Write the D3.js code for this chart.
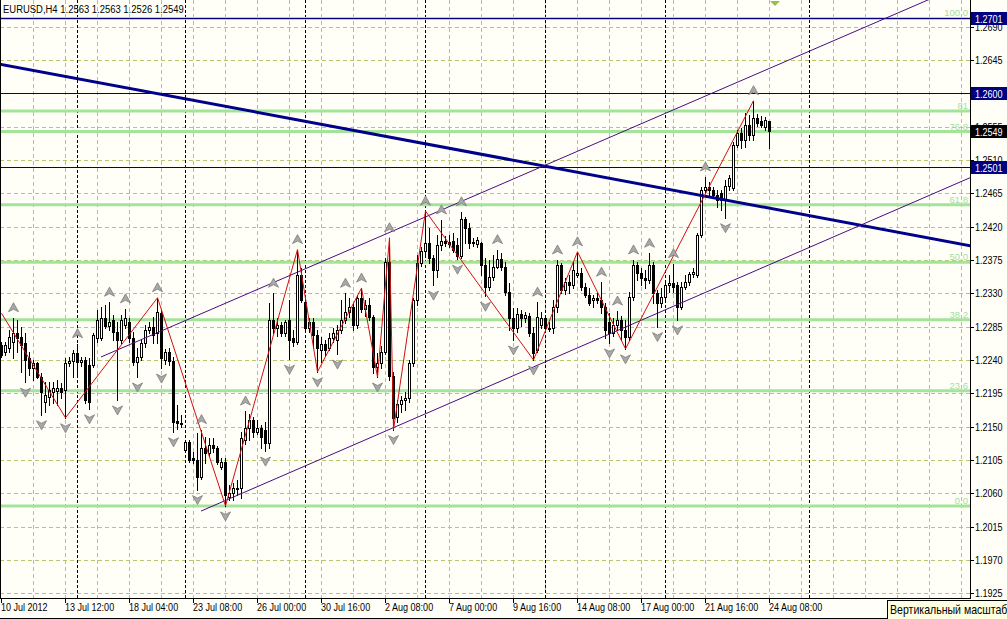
<!DOCTYPE html>
<html><head><meta charset="utf-8">
<script src="https://cdn.jsdelivr.net/npm/d3@7"></script>
<style>
html,body{margin:0;padding:0;background:#fffff8;overflow:hidden;}
svg{display:block;}
</style></head><body>
<svg id="c" width="1007" height="619"></svg>
<script>
// ---------- DATA ----------
const title = "EURUSD,H4  1.2563 1.2563 1.2526 1.2549";
const timeLabels = ["10 Jul 2012","13 Jul 12:00","18 Jul 04:00","23 Jul 08:00","26 Jul 00:00","30 Jul 16:00","2 Aug 08:00","7 Aug 00:00","9 Aug 16:00","14 Aug 08:00","17 Aug 00:00","21 Aug 16:00","24 Aug 08:00"];
const timeLabelBars = [0,16,32,48,64,80,96,112,128,144,160,176,192];
const priceTicks = [1.1925,1.1970,1.2015,1.2060,1.2105,1.2150,1.2195,1.2240,1.2285,1.2330,1.2375,1.2420,1.2465,1.2510,1.2555,1.2600,1.2645,1.2690];

const opens = [
1.2260,1.2251,1.2256,1.2264,1.2276,1.2271,1.2263,1.2243,1.2229,1.2236,1.2217,1.2183,1.2190,1.2197,1.2198,1.2202,
1.2200,1.2236,1.2239,1.2249,1.2237,1.2240,1.2233,1.2233,1.2270,1.2270,1.2297,1.2286,1.2294,1.2278,1.2267,1.2287,
1.2291,1.2270,1.2237,1.2244,1.2263,1.2281,1.2285,1.2276,1.2303,1.2240,1.2251,1.2239,1.2158,1.2155,1.2119,1.2129,
1.2108,1.2105,1.2082,1.2121,1.2114,1.2125,1.2121,1.2096,1.2102,1.2055,1.2060,1.2066,1.2067,1.2132,1.2148,1.2159,
1.2143,1.2148,1.2146,1.2128,1.2294,1.2283,1.2287,1.2276,1.2294,1.2270,1.2264,1.2355,1.2318,1.2283,1.2291,1.2274,
1.2254,1.2262,1.2256,1.2270,1.2267,1.2281,1.2294,1.2305,1.2312,1.2287,1.2324,1.2309,1.2314,1.2298,1.2231,1.2236,
1.2251,1.2372,1.2218,1.2163,1.2181,1.2186,1.2189,1.2236,1.2321,1.2371,1.2387,1.2398,1.2378,1.2361,1.2395,1.2401,
1.2399,1.2401,1.2395,1.2380,1.2430,1.2418,1.2398,1.2397,1.2398,1.2368,1.2339,1.2352,1.2366,1.2376,1.2366,1.2332,
1.2297,1.2283,1.2302,1.2297,1.2299,1.2276,1.2254,1.2287,1.2297,1.2283,1.2283,1.2312,1.2368,1.2335,1.2345,1.2341,
1.2355,1.2357,1.2339,1.2328,1.2321,1.2324,1.2321,1.2312,1.2291,1.2276,1.2287,1.2294,1.2281,1.2271,1.2325,1.2368,
1.2357,1.2351,1.2348,1.2368,1.2330,1.2317,1.2325,1.2341,1.2344,1.2341,1.2312,1.2339,1.2345,1.2356,1.2355,1.2409,
1.2470,1.2474,1.2470,1.2463,1.2465,1.2456,1.2475,1.2472,1.2530,1.2546,1.2537,1.2557,1.2544,1.2567,1.2563,1.2555,
1.2563];
const highs = [
1.2264,1.2264,1.2281,1.2297,1.2294,1.2285,1.2276,1.2251,1.2240,1.2237,1.2222,1.2210,1.2210,1.2210,1.2213,1.2209,
1.2243,1.2244,1.2254,1.2262,1.2244,1.2244,1.2243,1.2276,1.2308,1.2312,1.2314,1.2318,1.2301,1.2291,1.2301,1.2309,
1.2297,1.2278,1.2256,1.2267,1.2287,1.2291,1.2298,1.2324,1.2308,1.2255,1.2256,1.2244,1.2179,1.2166,1.2132,1.2132,
1.2116,1.2141,1.2146,1.2136,1.2135,1.2135,1.2124,1.2108,1.2108,1.2071,1.2074,1.2078,1.2143,1.2171,1.2167,1.2163,
1.2159,1.2152,1.2156,1.2317,1.2330,1.2297,1.2291,1.2294,1.2321,1.2281,1.2389,1.2364,1.2326,1.2297,1.2297,1.2281,
1.2271,1.2267,1.2276,1.2283,1.2287,1.2321,1.2330,1.2324,1.2317,1.2328,1.2337,1.2321,1.2324,1.2301,1.2249,1.2259,
1.2378,1.2405,1.2224,1.2186,1.2191,1.2197,1.2240,1.2324,1.2382,1.2393,1.2441,1.2418,1.2382,1.2409,1.2429,1.2407,
1.2409,1.2411,1.2405,1.2440,1.2433,1.2425,1.2405,1.2406,1.2399,1.2378,1.2375,1.2382,1.2389,1.2384,1.2372,1.2344,
1.2310,1.2310,1.2308,1.2305,1.2303,1.2285,1.2318,1.2305,1.2301,1.2291,1.2321,1.2375,1.2371,1.2351,1.2355,1.2372,
1.2386,1.2364,1.2344,1.2337,1.2328,1.2330,1.2345,1.2317,1.2303,1.2297,1.2306,1.2299,1.2294,1.2332,1.2375,1.2372,
1.2364,1.2362,1.2384,1.2372,1.2335,1.2337,1.2345,1.2355,1.2370,1.2345,1.2345,1.2355,1.2359,1.2364,1.2411,1.2474,
1.2487,1.2480,1.2474,1.2470,1.2470,1.2483,1.2490,1.2534,1.2551,1.2553,1.2573,1.2571,1.2590,1.2572,1.2569,1.2568,
1.2563];
const lows = [
1.2244,1.2247,1.2251,1.2243,1.2251,1.2224,1.2210,1.2220,1.2213,1.2216,1.2166,1.2170,1.2179,1.2182,1.2179,1.2189,
1.2162,1.2232,1.2217,1.2217,1.2232,1.2182,1.2174,1.2231,1.2264,1.2267,1.2283,1.2281,1.2267,1.2186,1.2263,1.2283,
1.2264,1.2233,1.2217,1.2240,1.2258,1.2276,1.2263,1.2263,1.2229,1.2235,1.2233,1.2143,1.2147,1.2150,1.2116,1.2102,
1.2101,1.2065,1.2079,1.2101,1.2110,1.2116,1.2100,1.2093,1.2043,1.2051,1.2051,1.2058,1.2054,1.2127,1.2132,1.2136,
1.2140,1.2121,1.2117,1.2121,1.2276,1.2272,1.2272,1.2272,1.2241,1.2259,1.2262,1.2318,1.2278,1.2278,1.2256,1.2224,
1.2237,1.2245,1.2254,1.2264,1.2248,1.2276,1.2290,1.2298,1.2281,1.2283,1.2305,1.2299,1.2294,1.2222,1.2217,1.2229,
1.2248,1.2213,1.2146,1.2156,1.2170,1.2173,1.2183,1.2232,1.2314,1.2367,1.2379,1.2371,1.2341,1.2352,1.2389,1.2394,
1.2393,1.2386,1.2376,1.2378,1.2398,1.2391,1.2394,1.2393,1.2355,1.2326,1.2335,1.2348,1.2364,1.2361,1.2328,1.2281,
1.2267,1.2278,1.2286,1.2291,1.2272,1.2240,1.2251,1.2283,1.2281,1.2279,1.2276,1.2305,1.2330,1.2329,1.2330,1.2337,
1.2352,1.2335,1.2325,1.2314,1.2312,1.2317,1.2303,1.2270,1.2263,1.2272,1.2281,1.2267,1.2255,1.2267,1.2321,1.2348,
1.2341,1.2337,1.2344,1.2317,1.2285,1.2312,1.2321,1.2332,1.2332,1.2294,1.2309,1.2336,1.2341,1.2352,1.2352,1.2406,
1.2465,1.2461,1.2459,1.2447,1.2443,1.2432,1.2470,1.2470,1.2528,1.2526,1.2528,1.2537,1.2537,1.2556,1.2555,1.2551,
1.2526];
const closes = [
1.2247,1.2260,1.2271,1.2276,1.2270,1.2260,1.2240,1.2229,1.2236,1.2217,1.2197,1.2193,1.2200,1.2202,1.2202,1.2197,
1.2236,1.2239,1.2249,1.2237,1.2240,1.2186,1.2183,1.2274,1.2294,1.2297,1.2286,1.2291,1.2278,1.2267,1.2294,1.2297,
1.2270,1.2237,1.2244,1.2263,1.2281,1.2285,1.2274,1.2305,1.2243,1.2251,1.2239,1.2156,1.2155,1.2154,1.2129,1.2105,
1.2105,1.2082,1.2121,1.2114,1.2125,1.2121,1.2102,1.2102,1.2058,1.2060,1.2067,1.2067,1.2135,1.2148,1.2159,1.2143,
1.2148,1.2136,1.2128,1.2294,1.2283,1.2287,1.2276,1.2291,1.2267,1.2264,1.2355,1.2321,1.2283,1.2291,1.2274,1.2256,
1.2262,1.2254,1.2270,1.2276,1.2281,1.2294,1.2305,1.2312,1.2287,1.2324,1.2309,1.2314,1.2298,1.2231,1.2236,1.2251,
1.2372,1.2218,1.2162,1.2181,1.2186,1.2189,1.2236,1.2321,1.2371,1.2387,1.2398,1.2378,1.2361,1.2395,1.2401,1.2398,
1.2397,1.2389,1.2380,1.2430,1.2418,1.2398,1.2399,1.2402,1.2368,1.2339,1.2352,1.2366,1.2376,1.2366,1.2332,1.2297,
1.2283,1.2302,1.2297,1.2301,1.2276,1.2249,1.2298,1.2297,1.2283,1.2282,1.2312,1.2368,1.2335,1.2345,1.2341,1.2361,
1.2357,1.2339,1.2328,1.2317,1.2324,1.2321,1.2312,1.2281,1.2276,1.2287,1.2294,1.2281,1.2271,1.2325,1.2368,1.2357,
1.2351,1.2348,1.2368,1.2330,1.2317,1.2325,1.2341,1.2344,1.2339,1.2312,1.2339,1.2345,1.2356,1.2359,1.2409,1.2470,
1.2474,1.2470,1.2463,1.2456,1.2456,1.2475,1.2486,1.2530,1.2546,1.2537,1.2557,1.2544,1.2567,1.2560,1.2557,1.2564,
1.2549];

const upFractals   = [3,19,27,31,39,50,61,68,74,86,90,97,106,110,115,124,134,139,144,150,154,158,162,168,176,188];
const downFractals = [6,10,16,22,29,34,40,43,49,56,66,72,79,84,94,98,108,114,121,128,133,152,156,164,169,181];

const zigzagBars   = [0,16,39,56,74,79,90,94,97,98,106,133,144,156,188];
const zigzagPrices = [1.2303,1.2162,1.2324,1.2043,1.2389,1.2224,1.2337,1.2217,1.2405,1.2146,1.2441,1.2240,1.2386,1.2255,1.2590];

const fibLow = 1.2043, fibHigh = 1.2701;
const fibLevels = [0,23.6,38.2,50.0,61.8,76.8,81,100];
const fibLabels = ["0.0","23.6","38.2","50.0","61.8","76.8","81","100.0"];

const hLinePrices = [1.2701,1.2600,1.2501];
const bidPrice = 1.2549;

const separatorBars = [19,46,76,106,136,166,202];

const trendBars = [0,192], trendPrices = [1.2639,1.2445];          // thick blue trend line
const chanUpBars = [25,188], chanUpPrices = [1.2244,1.2624];        // upper channel
const chanLoBars = [50,188], chanLoPrices = [1.2036,1.2359];        // lower channel

const tooltipText = "Вертикальный масштаб";

// ---------- CHART ----------
const svg = d3.select("#c");
const PR = 970, PB = 598;
const x = d3.scaleLinear().domain([0,192]).range([1,769]);
const y = d3.scaleLinear().domain([1.1925,1.2690]).range([593.3,26.6]);
const font = '"Liberation Sans",Arial,sans-serif';
const SX = 0.86; // horizontal squeeze to mimic the narrow terminal font

function label(sel, fx, fy, size, fill, anchor){
  return sel.append("text")
    .attr("transform",(d,i)=>`translate(${fx(d,i)},${fy(d,i)}) scale(${SX},1)`)
    .attr("font-family",font).attr("font-size",size).attr("fill",fill)
    .attr("text-anchor",anchor||"start");
}

svg.append("rect").attr("width",1007).attr("height",619).attr("fill","#fffff8");
svg.append("defs").append("clipPath").attr("id","pc").append("rect").attr("x",0).attr("y",0).attr("width",PR).attr("height",PB);
const g = svg.append("g").attr("clip-path","url(#pc)");

// grid
g.selectAll(".hg").data(priceTicks).enter().append("line")
  .attr("x1",0).attr("x2",PR).attr("y1",d=>Math.round(y(d))+0.5).attr("y2",d=>Math.round(y(d))+0.5)
  .attr("stroke","#b9c76c").attr("stroke-dasharray","4,3");
g.selectAll(".vg").data(d3.range(8,244,8)).enter().append("line")
  .attr("x1",d=>x(d)+0.5).attr("x2",d=>x(d)+0.5).attr("y1",0).attr("y2",PB)
  .attr("stroke","#b9c76c").attr("stroke-dasharray","4,3");
g.selectAll(".sep").data(separatorBars).enter().append("line")
  .attr("x1",d=>x(d)+0.5).attr("x2",d=>x(d)+0.5).attr("y1",0).attr("y2",PB)
  .attr("stroke","#000").attr("stroke-dasharray","3,2");

// fibo
const fibPrice = l => fibLow + (fibHigh-fibLow)*l/100;
g.selectAll(".fib").data(fibLevels).enter().append("line")
  .attr("x1",0).attr("x2",PR).attr("y1",d=>y(fibPrice(d))).attr("y2",d=>y(fibPrice(d)))
  .attr("stroke","#a3e39a").attr("stroke-width",3);
g.selectAll(".fibt").data(fibLevels).enter().append("text")
  .attr("x",968).attr("y",d=>y(fibPrice(d))-2).attr("text-anchor","end")
  .attr("font-family",font).attr("font-size",9.5).attr("fill","#a8dca0")
  .text((d,i)=>fibLabels[i]);

// horizontal lines
g.selectAll(".hl").data(hLinePrices).enter().append("line")
  .attr("x1",0).attr("x2",PR).attr("y1",d=>Math.round(y(d))+0.5).attr("y2",d=>Math.round(y(d))+0.5)
  .attr("stroke","#000080").attr("stroke-width",1);

// candles
const bars = d3.range(opens.length).map(i=>({i,o:opens[i],h:highs[i],l:lows[i],c:closes[i]}));
const cg = g.append("g");
cg.selectAll(".wick").data(bars).enter().append("rect")
  .attr("x",d=>Math.round(x(d.i))).attr("width",1)
  .attr("y",d=>Math.round(y(d.h))).attr("height",d=>Math.max(1,Math.round(y(d.l))-Math.round(y(d.h))+1))
  .attr("fill","#000");
cg.selectAll(".body").data(bars).enter().append("rect")
  .each(function(d){
    const cx = Math.round(x(d.i));
    const yt = Math.round(y(Math.max(d.o,d.c))), yb = Math.round(y(Math.min(d.o,d.c)));
    const s = d3.select(this);
    if (d.c < d.o) {
      s.attr("x",cx-1).attr("width",3).attr("y",yt).attr("height",Math.max(1,yb-yt+1)).attr("fill","#000");
    } else {
      s.attr("x",cx-0.5).attr("width",2).attr("y",yt+0.5).attr("height",Math.max(0,yb-yt))
       .attr("fill","#fff").attr("stroke","#000").attr("stroke-width",1);
    }
  });

// lines (trend, channel)
function ray(bx,py,stroke,w){
  const x1=x(bx[0]),y1=y(py[0]),x2=x(bx[1]),y2=y(py[1]);
  const k=(y2-y1)/(x2-x1);
  g.append("line").attr("x1",x1).attr("y1",y1).attr("x2",PR+40).attr("y2",y1+k*(PR+40-x1))
    .attr("stroke",stroke).attr("stroke-width",w);
}
(function(){
  const x1=x(trendBars[0]),y1=y(trendPrices[0]),x2=x(trendBars[1]),y2=y(trendPrices[1]);
  const k=(y2-y1)/(x2-x1);
  g.append("line").attr("x1",-10).attr("y1",y1+k*(-10-x1)).attr("x2",PR+10).attr("y2",y1+k*(PR+10-x1))
   .attr("stroke","#00008b").attr("stroke-width",3);
})();
ray(chanUpBars,chanUpPrices,"#4b0a82",1);
ray(chanLoBars,chanLoPrices,"#4b0a82",1);

// zigzag
g.append("path").datum(zigzagBars.map((b,i)=>[b,zigzagPrices[i]]))
  .attr("d",d3.line().x(d=>x(d[0])+0.5).y(d=>y(d[1])))
  .attr("fill","none").attr("stroke","#d01010").attr("stroke-width",1);

// fractals
const upPath = "M0,-5L5,4L0,1.5L-5,4Z", dnPath = "M0,5L5,-4L0,-1.5L-5,-4Z";
g.selectAll(".fu").data(upFractals).enter().append("path")
  .attr("d",upPath).attr("transform",d=>`translate(${x(d)+0.5},${y(highs[d])-10})`)
  .attr("fill","#a8a8a8").attr("stroke","#7c7c7c").attr("stroke-width",0.8);
g.selectAll(".fd").data(downFractals).enter().append("path")
  .attr("d",dnPath).attr("transform",d=>`translate(${x(d)+0.5},${y(lows[d])+10})`)
  .attr("fill","#a8a8a8").attr("stroke","#7c7c7c").attr("stroke-width",0.8);

// axes
svg.append("line").attr("x1",PR+0.5).attr("x2",PR+0.5).attr("y1",0).attr("y2",PB+1).attr("stroke","#000");
svg.append("line").attr("x1",0).attr("x2",PR+1).attr("y1",PB+0.5).attr("y2",PB+0.5).attr("stroke","#000");
svg.append("line").attr("x1",0.5).attr("x2",0.5).attr("y1",0).attr("y2",PB).attr("stroke","#000");
svg.selectAll(".pt").data(priceTicks).enter().append("line")
  .attr("x1",PR).attr("x2",PR+4).attr("y1",d=>Math.round(y(d))+0.5).attr("y2",d=>Math.round(y(d))+0.5).attr("stroke","#000");
label(svg.selectAll(".ptl").data(priceTicks).enter(), ()=>975, d=>y(d)+4, 10.5, "#000").text(d=>d.toFixed(4));
svg.selectAll(".tt").data(timeLabelBars).enter().append("line")
  .attr("x1",d=>x(d)+0.5).attr("x2",d=>x(d)+0.5).attr("y1",PB).attr("y2",PB+5).attr("stroke","#000");
label(svg.selectAll(".ttl").data(timeLabelBars).enter(), d=>x(d), ()=>611, 10.5, "#000").text((d,i)=>timeLabels[i]);

// price boxes
const boxes = hLinePrices.map(p=>({p,bg:"#000080"})).concat([{p:bidPrice,bg:"#000"}]);
const bx = svg.selectAll(".bx").data(boxes).enter().append("g");
bx.append("rect").attr("x",971).attr("y",d=>Math.round(y(d.p))-6).attr("width",36).attr("height",13).attr("fill",d=>d.bg);
label(bx, ()=>975, d=>Math.round(y(d.p))+4.5, 10.5, "#fff").text(d=>d.p.toFixed(4));

// title
svg.append("text").attr("transform",`translate(3,13) scale(${SX},1)`).attr("font-family",font).attr("font-size",11).attr("fill","#000").text(title);

// shift marker
svg.append("path").attr("d",`M${x(193.5)-5},1L${x(193.5)+5},1L${x(193.5)},6Z`).attr("fill","#8fc24a");

// bottom border & tooltip
svg.append("line").attr("x1",0).attr("x2",1007).attr("y1",618.5).attr("y2",618.5).attr("stroke","#000");
svg.append("rect").attr("x",887.5).attr("y",600.5).attr("width",130).attr("height",19).attr("fill","#ffffe1").attr("stroke","#000");
svg.append("text").attr("transform",`translate(890,614) scale(0.88,1)`).attr("font-family",font).attr("font-size",12).attr("fill","#000").text(tooltipText);
</script>
</body></html>
